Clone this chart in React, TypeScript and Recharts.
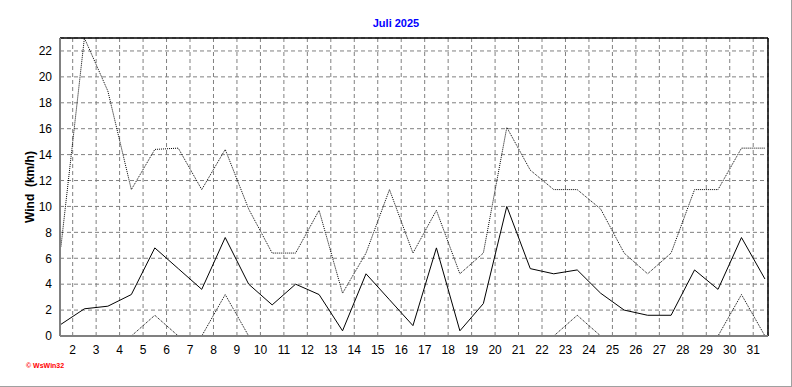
import React from "react";
import {
  LineChart,
  Line,
  XAxis,
  YAxis,
  CartesianGrid,
  ReferenceLine,
} from "recharts";

// Juli 2025, daily wind (km/h)
const days = [
  1, 2, 3, 4, 5, 6, 7, 8, 9, 10, 11, 12, 13, 14, 15, 16, 17, 18, 19, 20, 21,
  22, 23, 24, 25, 26, 27, 28, 29, 30, 31,
];
const windAvg = [
  0.9, 2.1, 2.3, 3.2, 6.8, 5.2, 3.6, 7.6, 4.0, 2.4, 4.0, 3.2, 0.4, 4.8, 2.8,
  0.8, 6.8, 0.4, 2.5, 10.0, 5.2, 4.8, 5.1, 3.3, 2.0, 1.6, 1.6, 5.1, 3.6, 7.6,
  4.4,
];
const windMax = [
  6.9, 23.0, 18.9, 11.3, 14.4, 14.5, 11.3, 14.4, 9.8, 6.4, 6.4, 9.7, 3.3, 6.4,
  11.3, 6.4, 9.7, 4.8, 6.4, 16.1, 12.8, 11.3, 11.3, 9.8, 6.4, 4.8, 6.4, 11.3,
  11.3, 14.5, 14.5,
];
const windMin = [
  0, 0, 0, 0, 1.6, 0, 0, 3.2, 0, 0, 0, 0, 0, 0, 0, 0, 0, 0, 0, 0, 0, 0, 1.6, 0,
  0, 0, 0, 0, 0, 3.2, 0,
];
const dayTicks = [
  2, 3, 4, 5, 6, 7, 8, 9, 10, 11, 12, 13, 14, 15, 16, 17, 18, 19, 20, 21, 22,
  23, 24, 25, 26, 27, 28, 29, 30, 31,
];
const windTicks = [0, 2, 4, 6, 8, 10, 12, 14, 16, 18, 20, 22];

const X_MIN = 1.46;
const X_MAX = 31.63;
const Y_MAX = 23;

// each day value sits at midday
const data = days.map((d, i) => ({
  t: d + 0.5,
  avg: windAvg[i],
  max: windMax[i],
  min: windMin[i],
}));

// small ticks: 6 per day on x, half units on y
const minorX: number[] = [];
for (let v = 2; v <= 31.6; v += 1 / 6) minorX.push(v);
const minorY: number[] = [];
for (let v = 0; v <= Y_MAX; v += 0.5) minorY.push(v);

const font = "'Liberation Sans', Arial, sans-serif";
const tickStyle = { fontSize: 12, fill: "#000", fontFamily: font };

export default function App() {
  return (
    <div
      style={{
        position: "absolute",
        left: 0,
        top: 0,
        width: 792,
        height: 387,
        background: "#fff",
        boxSizing: "border-box",
        borderRight: "1px solid #a0a0a0",
        borderBottom: "1px solid #a0a0a0",
        fontFamily: font,
      }}
    >
      <div
        style={{
          position: "absolute",
          left: 0,
          top: 17,
          width: 792,
          textAlign: "center",
          color: "#0000ff",
          fontWeight: "bold",
          fontSize: 11,
        }}
      >
        Juli 2025
      </div>
      <div
        style={{
          position: "absolute",
          left: 30,
          top: 187,
          transform: "translate(-50%, -50%) rotate(-90deg)",
          fontWeight: "bold",
          fontSize: 12,
          whiteSpace: "pre",
        }}
      >
        Wind  (km/h)
      </div>
      <div
        style={{
          position: "absolute",
          left: 26,
          top: 362,
          color: "#ff0000",
          fontWeight: "bold",
          fontSize: 7,
        }}
      >
        © WsWin32
      </div>
      <LineChart
        width={792}
        height={387}
        data={data}
        margin={{ top: 38, right: 24, left: 0, bottom: 21 }}
        style={{ position: "absolute", left: 0, top: 0 }}
      >
        <CartesianGrid stroke="#808080" strokeDasharray="4 3" />
        <XAxis
          dataKey="t"
          type="number"
          domain={[X_MIN, X_MAX]}
          ticks={dayTicks}
          interval={0}
          allowDataOverflow
          height={30}
          tickLine={false}
          tickMargin={3}
          tick={tickStyle}
          axisLine={{ stroke: "#808080", strokeWidth: 2 }}
        />
        <XAxis
          xAxisId="minor"
          dataKey="t"
          type="number"
          domain={[X_MIN, X_MAX]}
          ticks={minorX}
          interval={0}
          allowDataOverflow
          mirror
          height={10}
          tick={false}
          tickSize={2}
          axisLine={false}
          tickLine={{ stroke: "#808080" }}
        />
        <YAxis
          type="number"
          domain={[0, Y_MAX]}
          ticks={windTicks}
          interval={0}
          allowDataOverflow
          width={60}
          tickLine={false}
          tickMargin={2}
          tick={tickStyle}
          axisLine={{ stroke: "#808080", strokeWidth: 2 }}
        />
        <YAxis
          yAxisId="minor"
          type="number"
          domain={[0, Y_MAX]}
          ticks={minorY}
          interval={0}
          allowDataOverflow
          mirror
          width={10}
          tick={false}
          tickSize={2}
          axisLine={false}
          tickLine={{ stroke: "#808080" }}
        />
        <ReferenceLine y={Y_MAX} stroke="#000" strokeWidth={1.5} />
        <ReferenceLine x={X_MAX} stroke="#000" strokeWidth={1.5} />
        <Line
          type="linear"
          dataKey="max"
          stroke="#000"
          strokeWidth={1}
          strokeDasharray="1 1"
          dot={false}
          isAnimationActive={false}
        />
        <Line
          type="linear"
          dataKey="min"
          stroke="#000"
          strokeWidth={1}
          strokeDasharray="1 1"
          dot={false}
          isAnimationActive={false}
        />
        <Line
          type="linear"
          dataKey="avg"
          stroke="#000"
          strokeWidth={1}
          dot={false}
          isAnimationActive={false}
        />
      </LineChart>
    </div>
  );
}
